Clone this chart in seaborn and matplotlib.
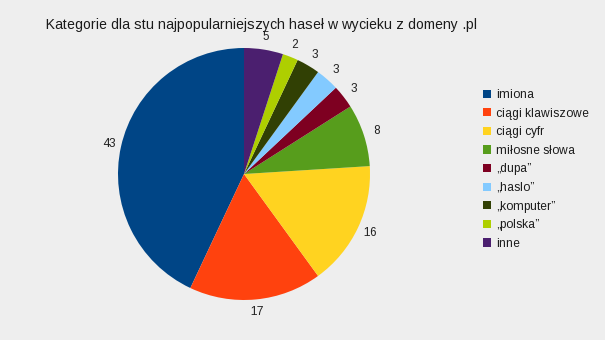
import matplotlib
matplotlib.use("Agg")
import matplotlib.pyplot as plt
import seaborn as sns
from matplotlib.patches import Patch

categories = ["imiona", "ciągi klawiszowe", "ciągi cyfr", "miłosne słowa",
              "„dupa”", "„haslo”", "„komputer”", "„polska”", "inne"]
values = [43, 17, 16, 8, 3, 3, 3, 2, 5]
colors = ["#004586", "#ff420e", "#ffd320", "#579d1c", "#7e0021",
          "#83caff", "#314004", "#aecf00", "#4b1f6f"]
title = "Kategorie dla stu najpopularniejszych haseł w wycieku z domeny .pl"

sns.set_style("white")
plt.rcParams["font.family"] = ["Liberation Sans", "DejaVu Sans"]
plt.rcParams["text.hinting_factor"] = 1
bg = "#eeeeee"

fig = plt.figure(figsize=(6.05, 3.40), dpi=100, facecolor=bg)
cx, cy, r = 244, 174, 126
ax = fig.add_axes([(cx - r) / 605, (340 - cy - r) / 340, 2 * r / 605, 2 * r / 340])
ax.set_facecolor(bg)
pal = sns.color_palette(colors)
wedges, texts = ax.pie(values, labels=[str(v) for v in values], colors=pal,
                       startangle=90, counterclock=True, labeldistance=1.1,
                       textprops=dict(fontsize=8.5, color="#222222"),
                       wedgeprops=dict(linewidth=0))
ax.set_xlim(-1, 1)
ax.set_ylim(-1, 1)
ax.set_aspect("equal")
for t in texts:
    t.set_clip_on(False)
    t.set_ha("center")
    t.set_va("center")

fig.text(261 / 605, 1 - 25.5 / 340, title, ha="center", va="center",
         fontsize=10.2, color="#1a1a1a")

handles = [Patch(facecolor=c, edgecolor="none") for c in pal]
leg = fig.legend(handles, categories, loc="upper left",
                 bbox_to_anchor=(483 / 605, 1 - 89 / 340), frameon=False,
                 fontsize=8.8, handlelength=0.64, handleheight=0.64,
                 handletextpad=0.4, labelspacing=0.54, borderpad=0,
                 borderaxespad=0)
for t in leg.get_texts():
    t.set_color("#1a1a1a")

fig.savefig("out.png", dpi=100, facecolor=bg)
